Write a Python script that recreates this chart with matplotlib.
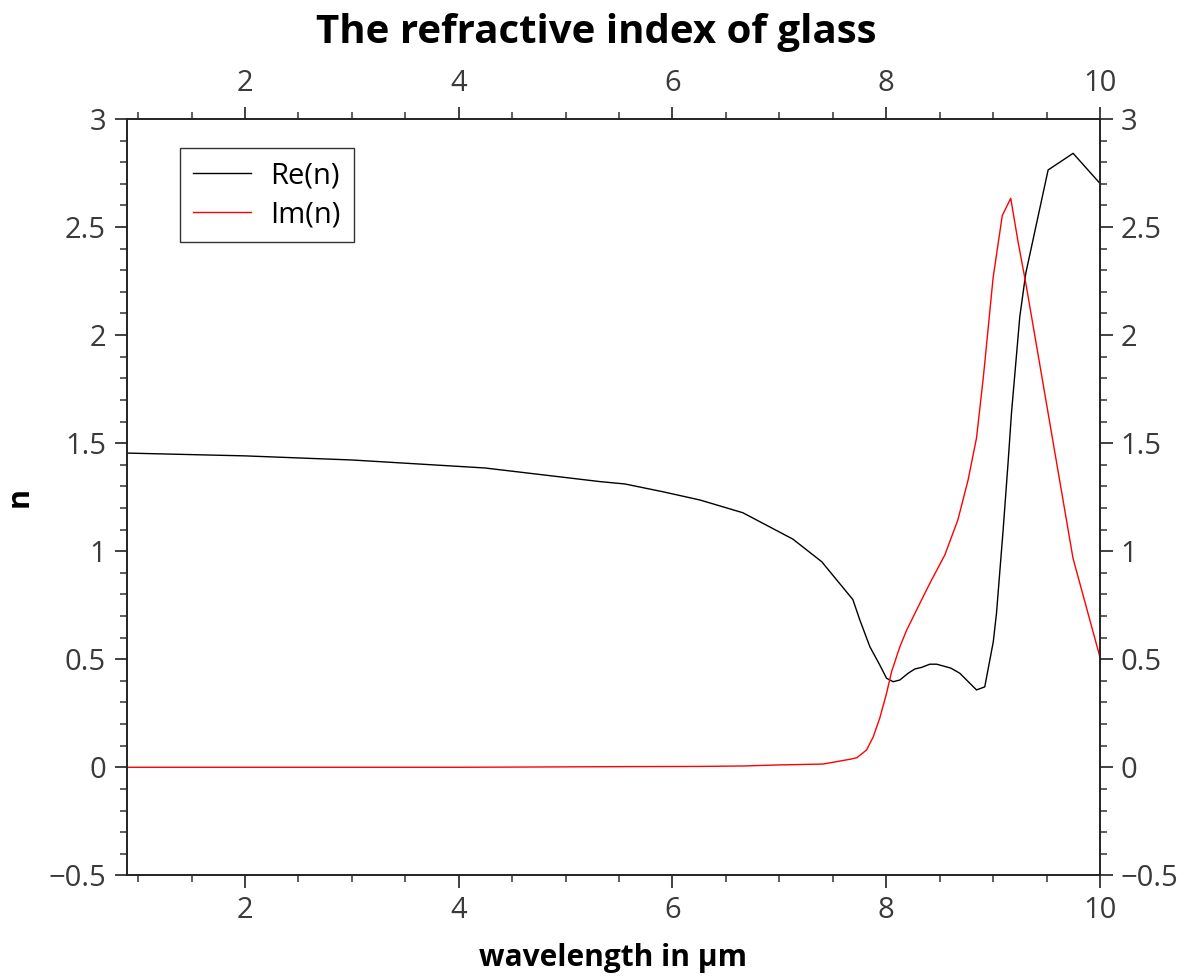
import matplotlib
matplotlib.use("Agg")
import matplotlib.pyplot as plt
from matplotlib.ticker import MultipleLocator, FuncFormatter

# wavelength (um) and real part of the refractive index
wl_re = [0.893, 2.0, 3.0, 3.169, 4.245, 5.321, 5.555, 5.91, 6.256, 6.658,
         7.126, 7.397, 7.688, 7.753, 7.847, 7.94, 8.003, 8.065, 8.128, 8.205,
         8.268, 8.33, 8.408, 8.473, 8.604, 8.689, 8.845, 8.922, 9.002, 9.032,
         9.094, 9.14, 9.172, 9.25, 9.306, 9.515, 9.749, 10.0]
n_re = [1.454, 1.441, 1.422, 1.417, 1.385, 1.322, 1.311, 1.275, 1.237, 1.178,
        1.056, 0.951, 0.776, 0.682, 0.558, 0.473, 0.412, 0.396, 0.404, 0.435,
        0.455, 0.462, 0.477, 0.477, 0.459, 0.435, 0.358, 0.372, 0.581, 0.713,
        1.098, 1.407, 1.638, 2.085, 2.286, 2.764, 2.841, 2.702]

# wavelength (um) and imaginary part of the refractive index
wl_im = [0.893, 2.0, 3.0, 4.0, 4.57, 5.5, 6.256, 6.658, 7.005, 7.41, 7.66,
         7.725, 7.816, 7.878, 7.94, 8.003, 8.05, 8.128, 8.19, 8.33, 8.408,
         8.548, 8.67, 8.766, 8.845, 8.906, 8.922, 9.0, 9.086, 9.165, 9.234,
         9.312, 9.748, 10.0]
n_im = [0.0, 0.0, 0.0, 0.0, 0.001, 0.003, 0.004, 0.006, 0.011, 0.015, 0.037,
        0.044, 0.08, 0.14, 0.228, 0.342, 0.442, 0.558, 0.633, 0.774, 0.851,
        0.982, 1.144, 1.329, 1.524, 1.792, 1.87, 2.264, 2.553, 2.633, 2.431,
        2.224, 0.967, 0.51]

label_re = "Re(n)"
label_im = "Im(n)"
title = "The refractive index of glass"
xlabel = "wavelength in µm"
ylabel = "n"

plt.rcParams["font.family"] = ["Open Sans", "DejaVu Sans"]
plt.rcParams["axes.unicode_minus"] = True

fig = plt.figure(figsize=(11.93, 9.80), dpi=100)
ax = fig.add_axes([0.1062, 0.1068, 0.922 - 0.1062, 0.8786 - 0.1068])

ax.plot(wl_re, n_re, color="black", lw=1.0, label=label_re)
ax.plot(wl_im, n_im, color="red", lw=1.0, label=label_im)

ax.set_xlim(0.893, 10)
ax.set_ylim(-0.5, 3)

ax.xaxis.set_major_locator(MultipleLocator(2))
ax.xaxis.set_minor_locator(MultipleLocator(0.5))
ax.yaxis.set_major_locator(MultipleLocator(0.5))
ax.yaxis.set_minor_locator(MultipleLocator(0.1))

fmt = FuncFormatter(lambda v, p: ("%g" % v).replace("-", "\u2212"))
ax.xaxis.set_major_formatter(fmt)
ax.yaxis.set_major_formatter(fmt)

tick_color = "#3a3a3a"
for sp in ax.spines.values():
    sp.set_linewidth(1.4)
    sp.set_color("#222222")

ax.tick_params(which="both", direction="out", top=True, right=True,
               labeltop=True, labelright=True, color="#333333")
ax.tick_params(which="major", length=9, width=1.3, labelsize=21,
               labelcolor=tick_color, pad=6)
ax.tick_params(which="minor", length=5, width=1.1)

ax.set_xlabel(xlabel, fontsize=21.5, fontweight="bold", labelpad=13)
ax.set_ylabel(ylabel, fontsize=22, fontweight="bold", labelpad=10)
fig.text(0.5, 0.967, title, fontsize=29, fontweight="bold",
         ha="center", va="center")

leg = ax.legend(loc="upper left", bbox_to_anchor=(0.0545, 0.9617),
                borderaxespad=0.0, fontsize=21, frameon=True, fancybox=False,
                shadow=False, handlelength=2.0, borderpad=0.45,
                labelspacing=0.35, handletextpad=0.65)
leg.get_frame().set_edgecolor("black")
leg.get_frame().set_linewidth(1.0)

fig.savefig("out.png", dpi=100)
